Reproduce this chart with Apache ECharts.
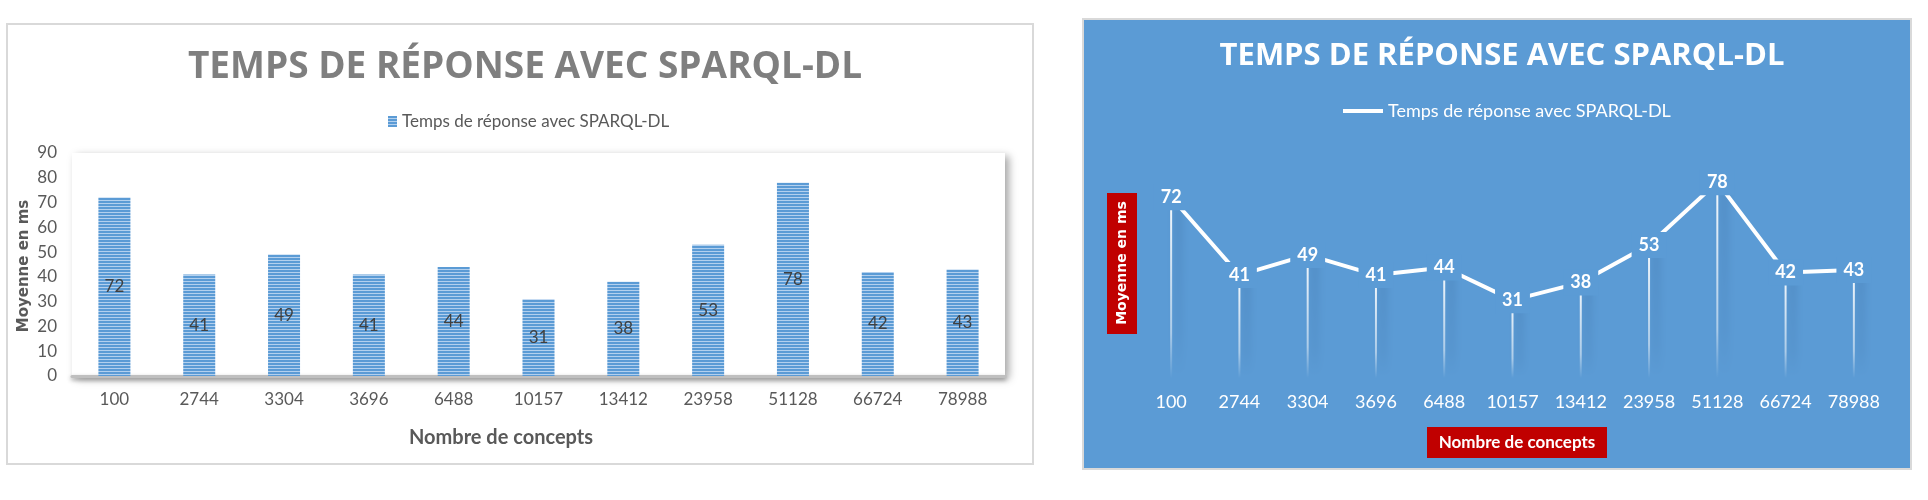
<!DOCTYPE html>
<html>
<head>
<meta charset="utf-8">
<script src="https://cdn.jsdelivr.net/npm/echarts@6/dist/echarts.min.js"></script>
<style>
  html, body { margin: 0; padding: 0; background: #fff; }
  #chart { width: 1928px; height: 500px; }
</style>
</head>
<body>
<div id="chart"></div>
<script>
// donnees
const concepts = ['100', '2744', '3304', '3696', '6488', '10157', '13412', '23958', '51128', '66724', '78988'];
const temps = [72, 41, 49, 41, 44, 31, 38, 53, 78, 42, 43];
const yMin = 0;
const yMax = 90;
const yStep = 10;

const titre = 'TEMPS DE RÉPONSE AVEC SPARQL-DL';
const serieNom = 'Temps de réponse avec SPARQL-DL';
const yTitre = 'Moyenne en ms';
const xTitre = 'Nombre de concepts';

const bleu = '#5b9bd5';
const rouge = '#c00000';

// motif a rayures horizontales des barres
const makeStripes = () => {
  let c = document.createElement('canvas');
  c.width = 4;
  c.height = 3;
  let ctx = c.getContext('2d');
  ctx.fillStyle = bleu;
  ctx.fillRect(0, 0, 4, 3);
  ctx.fillStyle = '#b3d0ee';
  ctx.fillRect(0, 2, 4, 1);
  return c;
};
const stripes = { image: makeStripes(), repeat: 'repeat' };

const chart = echarts.init(document.getElementById('chart'), null, { renderer: 'canvas' });

chart.setOption({
  animation: false,
  textStyle: { fontFamily: 'Lato' },
  graphic: [
    // cadres des deux graphiques
    { type: 'rect', z: -10, shape: { x: 7, y: 24, width: 1026, height: 440 },
      style: { fill: '#fff', stroke: '#d9d9d9', lineWidth: 2 } },
    { type: 'rect', z: -10, shape: { x: 1083, y: 19, width: 828, height: 450 },
      style: { fill: bleu, stroke: '#d9d9d9', lineWidth: 2 } },
    // titres des axes, graphique de gauche
    { type: 'text', z: 100, x: 24, y: 266, rotation: Math.PI / 2,
      style: { text: yTitre, fill: '#595959', font: 'bold 15px "DejaVu Sans"', align: 'center', verticalAlign: 'middle' } },
    { type: 'text', z: 100, x: 501, y: 438,
      style: { text: xTitre, fill: '#595959', font: 'bold 20px Lato', align: 'center', verticalAlign: 'middle' } },
    // titres des axes, graphique de droite (boites rouges)
    { type: 'rect', z: 99, shape: { x: 1107, y: 193, width: 30, height: 141 }, style: { fill: rouge } },
    { type: 'text', z: 100, x: 1122, y: 263, rotation: Math.PI / 2,
      style: { text: yTitre, fill: '#fff', font: 'bold 14px "DejaVu Sans"', align: 'center', verticalAlign: 'middle' } },
    { type: 'rect', z: 99, shape: { x: 1427, y: 427, width: 180, height: 31 }, style: { fill: rouge } },
    { type: 'text', z: 100, x: 1517, y: 443,
      style: { text: xTitre, fill: '#fff', font: 'bold 17px Lato', align: 'center', verticalAlign: 'middle' } },
  ],
  title: [
    { text: titre, left: 520, top: 44, textAlign: 'center',
      textStyle: { fontFamily: 'Open Sans', fontWeight: 'bold', fontSize: 37, color: '#7f7f7f' } },
    { text: titre, left: 1497, top: 36, textAlign: 'center',
      textStyle: { fontFamily: 'Open Sans', fontWeight: 'bold', fontSize: 31, color: '#fff' } },
  ],
  legend: [
    { data: ['barres'], left: 383, top: 108, icon: 'rect', itemWidth: 9, itemHeight: 11,
      formatter: () => serieNom,
      textStyle: { color: '#595959', fontSize: 17, fontFamily: 'Lato' } },
    { data: ['courbe'], left: 1338, top: 97, icon: 'rect', itemWidth: 40, itemHeight: 4,
      itemStyle: { color: '#fff' },
      formatter: () => serieNom,
      textStyle: { color: '#fff', fontSize: 18, fontFamily: 'Lato' } },
  ],
  grid: [
    { left: 72, top: 153, width: 933, height: 223, show: true, backgroundColor: '#fff', borderWidth: 0,
      shadowBlur: 8, shadowColor: 'rgba(0,0,0,0.35)', shadowOffsetX: 4, shadowOffsetY: 3 },
    { left: 1137, top: 152, width: 751, height: 226 },
  ],
  xAxis: [
    { type: 'category', gridIndex: 0, data: concepts,
      axisLine: { lineStyle: { color: '#bfbfbf', width: 3, shadowBlur: 4, shadowColor: 'rgba(0,0,0,0.35)', shadowOffsetY: 2 } },
      axisTick: { show: false },
      axisLabel: { color: '#595959', fontSize: 17, margin: 15 } },
    { type: 'category', gridIndex: 1, data: concepts,
      axisLine: { show: false }, axisTick: { show: false },
      axisLabel: { color: '#fff', fontSize: 18, margin: 15 } },
  ],
  yAxis: [
    { type: 'value', gridIndex: 0, min: yMin, max: yMax, interval: yStep,
      axisLine: { show: false }, axisTick: { show: false }, splitLine: { show: false },
      axisLabel: { color: '#595959', fontSize: 17, margin: 15 } },
    { type: 'value', gridIndex: 1, min: yMin, max: yMax, interval: yStep, show: false },
  ],
  series: [
    {
      name: 'barres', type: 'bar', xAxisIndex: 0, yAxisIndex: 0, data: temps,
      barWidth: 32,
      itemStyle: { color: stripes },
      label: { show: true, position: 'inside', color: '#404040', fontSize: 17, fontFamily: 'Lato' },
    },
    {
      // lignes de rappel verticales sous chaque point
      name: 'rappel', type: 'bar', xAxisIndex: 1, yAxisIndex: 1, data: temps,
      barWidth: 2, z: 2,
      itemStyle: {
        color: new echarts.graphic.LinearGradient(0, 0, 0, 1, [
          { offset: 0, color: 'rgba(255,255,255,0.95)' },
          { offset: 0.75, color: 'rgba(255,255,255,0.5)' },
          { offset: 1, color: 'rgba(255,255,255,0)' },
        ]),
        shadowBlur: 10, shadowColor: 'rgba(20,50,95,0.6)', shadowOffsetX: 7,
      },
    },
    {
      name: 'courbe', type: 'line', xAxisIndex: 1, yAxisIndex: 1, data: temps,
      z: 5,
      symbol: 'circle', symbolSize: 1,
      itemStyle: { color: 'rgba(255,255,255,0)' },
      lineStyle: { color: '#fff', width: 4 },
      label: {
        show: true, position: 'inside', color: '#fff', fontSize: 18, fontWeight: 'bold', fontFamily: 'Lato',
        backgroundColor: bleu, padding: [4, 7],
      },
    },
  ],
});
</script>
</body>
</html>
